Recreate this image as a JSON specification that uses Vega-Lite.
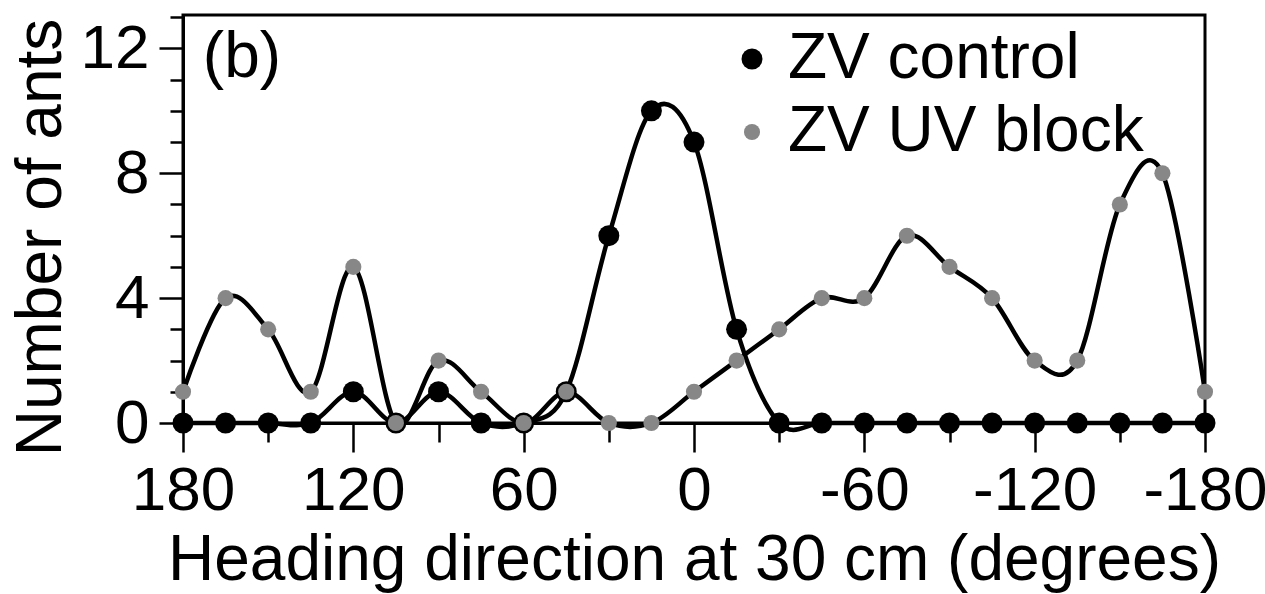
{
  "$schema": "https://vega.github.io/schema/vega-lite/v6.json",
  "width": 1022,
  "height": 408,
  "autosize": {"type": "none"},
  "padding": {"left": 183, "top": 15, "right": 60, "bottom": 171},
  "background": "white",
  "config": {
    "font": "Liberation Sans",
    "view": {"stroke": "black", "strokeWidth": 3},
    "axis": {
      "grid": false,
      "domainColor": "black",
      "domainWidth": 3,
      "tickColor": "black",
      "tickWidth": 2.5,
      "labelFont": "Liberation Sans",
      "labelFontSize": 62,
      "labelColor": "black",
      "titleFont": "Liberation Sans",
      "titleFontSize": 64,
      "titleFontWeight": "normal",
      "titleColor": "black"
    }
  },
  "resolve": {"axis": {"x": "independent", "y": "independent"}},
  "data": {
    "values": [
      {"heading": 180, "n": 0, "series": "ZV control"},
      {"heading": 165, "n": 0, "series": "ZV control"},
      {"heading": 150, "n": 0, "series": "ZV control"},
      {"heading": 135, "n": 0, "series": "ZV control"},
      {"heading": 120, "n": 1, "series": "ZV control"},
      {"heading": 105, "n": 0, "series": "ZV control"},
      {"heading": 90, "n": 1, "series": "ZV control"},
      {"heading": 75, "n": 0, "series": "ZV control"},
      {"heading": 60, "n": 0, "series": "ZV control"},
      {"heading": 45, "n": 1, "series": "ZV control"},
      {"heading": 30, "n": 6, "series": "ZV control"},
      {"heading": 15, "n": 10, "series": "ZV control"},
      {"heading": 0, "n": 9, "series": "ZV control"},
      {"heading": -15, "n": 3, "series": "ZV control"},
      {"heading": -30, "n": 0, "series": "ZV control"},
      {"heading": -45, "n": 0, "series": "ZV control"},
      {"heading": -60, "n": 0, "series": "ZV control"},
      {"heading": -75, "n": 0, "series": "ZV control"},
      {"heading": -90, "n": 0, "series": "ZV control"},
      {"heading": -105, "n": 0, "series": "ZV control"},
      {"heading": -120, "n": 0, "series": "ZV control"},
      {"heading": -135, "n": 0, "series": "ZV control"},
      {"heading": -150, "n": 0, "series": "ZV control"},
      {"heading": -165, "n": 0, "series": "ZV control"},
      {"heading": -180, "n": 0, "series": "ZV control"},
      {"heading": 180, "n": 1, "series": "ZV UV block"},
      {"heading": 165, "n": 4, "series": "ZV UV block"},
      {"heading": 150, "n": 3, "series": "ZV UV block"},
      {"heading": 135, "n": 1, "series": "ZV UV block"},
      {"heading": 120, "n": 5, "series": "ZV UV block"},
      {"heading": 105, "n": 0, "series": "ZV UV block"},
      {"heading": 90, "n": 2, "series": "ZV UV block"},
      {"heading": 75, "n": 1, "series": "ZV UV block"},
      {"heading": 60, "n": 0, "series": "ZV UV block"},
      {"heading": 45, "n": 1, "series": "ZV UV block"},
      {"heading": 30, "n": 0, "series": "ZV UV block"},
      {"heading": 15, "n": 0, "series": "ZV UV block"},
      {"heading": 0, "n": 1, "series": "ZV UV block"},
      {"heading": -15, "n": 2, "series": "ZV UV block"},
      {"heading": -30, "n": 3, "series": "ZV UV block"},
      {"heading": -45, "n": 4, "series": "ZV UV block"},
      {"heading": -60, "n": 4, "series": "ZV UV block"},
      {"heading": -75, "n": 6, "series": "ZV UV block"},
      {"heading": -90, "n": 5, "series": "ZV UV block"},
      {"heading": -105, "n": 4, "series": "ZV UV block"},
      {"heading": -120, "n": 2, "series": "ZV UV block"},
      {"heading": -135, "n": 2, "series": "ZV UV block"},
      {"heading": -150, "n": 7, "series": "ZV UV block"},
      {"heading": -165, "n": 8, "series": "ZV UV block"},
      {"heading": -180, "n": 1, "series": "ZV UV block"}
    ]
  },
  "layer": [
    {
      "mark": {"type": "line", "interpolate": "cardinal", "color": "black", "strokeWidth": 4.5, "clip": false},
      "encoding": {
        "x": {
          "field": "heading", "type": "quantitative",
          "scale": {"domain": [180, -180], "nice": false, "zero": false},
          "axis": {
            "orient": "bottom",
            "title": "Heading direction at 30 cm (degrees)",
            "values": [180, 120, 60, 0, -60, -120, -180],
            "labelExpr": "toString(datum.value)",
            "tickSize": 29,
            "labelPadding": 8,
            "labelFlush": false,
            "labelOverlap": false,
            "titleBaseline": "alphabetic",
            "titleY": 156
          }
        },
        "y": {
          "field": "n", "type": "quantitative",
          "scale": {"domain": [0, 13.07], "nice": false},
          "axis": {
            "orient": "left",
            "title": "Number of ants",
            "values": [0, 4, 8, 12],
            "labelExpr": "toString(datum.value)",
            "tickSize": 24,
            "labelPadding": 10,
            "labelFlush": false,
            "labelOverlap": false,
            "titleBaseline": "alphabetic",
            "titleX": -123,
            "titleY": 222
          }
        },
        "detail": {"field": "series"}
      }
    },
    {
      "mark": {"type": "circle", "opacity": 1, "clip": false},
      "encoding": {
        "x": {
          "field": "heading", "type": "quantitative",
          "axis": {
            "orient": "bottom",
            "title": null,
            "values": [150, 90, 30, -30, -90, -150],
            "labels": false,
            "domain": false,
            "tickSize": 19
          }
        },
        "y": {
          "field": "n", "type": "quantitative",
          "axis": {
            "orient": "left",
            "title": null,
            "values": [1, 2, 3, 5, 6, 7, 9, 10, 11, 13],
            "labels": false,
            "domain": false,
            "tickSize": 13
          }
        },
        "color": {
          "field": "series", "type": "nominal",
          "scale": {"domain": ["ZV control", "ZV UV block"], "range": ["black", "#878787"]},
          "legend": {
            "title": null,
            "orient": "none",
            "legendX": 537,
            "legendY": 12,
            "labelFontSize": 64,
            "labelFont": "Liberation Sans",
            "labelColor": "black",
            "labelLimit": 0,
            "symbolType": "circle",
            "symbolStrokeWidth": 0,
            "symbolOpacity": 1,
            "rowPadding": 9,
            "labelOffset": 4
          }
        },
        "size": {
          "field": "series", "type": "nominal",
          "scale": {"domain": ["ZV control", "ZV UV block"], "range": [440, 260]},
          "legend": {
            "title": null,
            "orient": "none",
            "legendX": 537,
            "legendY": 12,
            "labelFontSize": 64,
            "labelFont": "Liberation Sans",
            "labelColor": "black",
            "labelLimit": 0,
            "symbolType": "circle",
            "symbolStrokeWidth": 0,
            "symbolOpacity": 1,
            "rowPadding": 9,
            "labelOffset": 4
          }
        }
      }
    },
    {
      "data": {"values": [{"tag": "(b)"}]},
      "mark": {"type": "text", "align": "left", "baseline": "alphabetic", "fontSize": 64, "font": "Liberation Sans", "color": "black"},
      "encoding": {
        "x": {"datum": 173, "type": "quantitative", "axis": null},
        "y": {"datum": 11.09, "type": "quantitative", "axis": null},
        "text": {"field": "tag"}
      }
    }
  ]
}
